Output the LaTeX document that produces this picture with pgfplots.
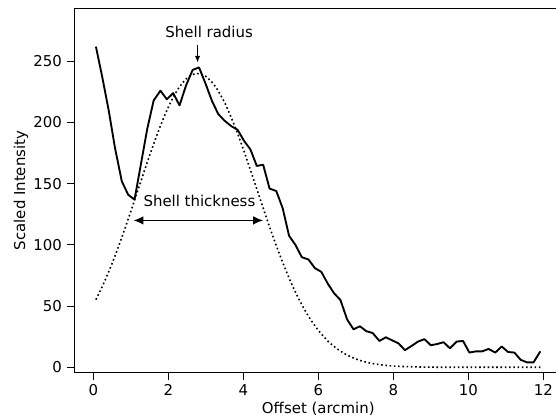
\documentclass[border=0pt]{standalone}
\usepackage{fontspec}
\setmainfont{DejaVu Sans}
\usepackage{pgfplots}
\usepackage{pgfplotstable}
\pgfplotsset{compat=1.18}
\usetikzlibrary{arrows.meta}

% measured radial profile
\pgfplotstableread{
x y
0.07 262
0.24 237
0.41 210
0.58 179
0.76 152
0.93 141
1.10 137
1.27 166
1.44 195
1.61 218
1.79 226
1.96 219
2.13 224
2.30 214
2.47 230
2.65 243
2.82 245
2.99 232
3.16 218
3.33 207
3.50 201.5
3.68 197
3.85 194
4.02 185
4.19 178
4.36 164.5
4.53 165.5
4.70 146
4.88 144
5.05 130
5.22 107.5
5.39 100
5.56 90
5.74 88
5.91 81
6.08 78
6.25 68.5
6.42 60.5
6.59 55
6.77 39
6.94 31
7.11 33.5
7.28 29.5
7.45 28
7.63 21.5
7.80 24.5
7.97 22
8.14 19.5
8.31 14
8.49 17.5
8.66 21
8.83 23
9.00 18
9.17 19
9.34 20.5
9.51 15.5
9.69 21
9.86 21.5
10.03 12
10.20 13
10.37 13
10.54 15
10.72 12
10.89 17
11.06 12.5
11.23 12
11.40 6
11.57 4
11.74 4
11.92 13
}\profile

% shell model (dotted)
\pgfplotstableread{
x y
0.07 55.3
0.25 66.7
0.50 84.8
0.75 105.3
1.00 127.3
1.25 150.2
1.50 172.9
1.75 194.1
2.00 212.5
2.25 226.9
2.50 236.3
2.75 240.0
3.00 237.7
3.25 229.6
3.50 216.4
3.75 198.8
4.00 178.2
4.25 155.8
4.50 132.8
4.75 110.4
5.00 89.6
5.25 70.8
5.50 54.6
5.75 41.1
6.00 30.2
6.25 21.6
6.50 15.1
6.75 10.3
7.00 6.8
7.25 4.4
7.50 2.8
7.75 1.7
8.00 1.0
8.50 0.4
9.00 0.1
9.50 0
10.00 0
10.50 0
11.00 0
11.50 0
11.92 0
}\model

\begin{document}
\fontsize{11.2}{13.4}\selectfont
\begin{tikzpicture}
\begin{axis}[
  scale only axis,
  width=365.6pt, height=272.6pt,
  xmin=-0.5, xmax=12.5,
  ymin=-4, ymax=293,
  xtick={0,2,...,12},
  ytick={0,50,...,250},
  xtick pos=left, ytick pos=left,
  tick align=outside,
  major tick length=5.6pt,
  tick style={black, line width=0.8pt},
  axis line style={line width=0.8pt},
  /pgf/number format/assume math mode=true,
  xlabel={Offset (arcmin)},
  ylabel={Scaled Intensity},
  xlabel style={at={(axis description cs:0.5,-0.115)}, anchor=base},
  ylabel style={at={(axis description cs:-0.1015,0.5)}, anchor=base},
  clip=false,
]
\addplot[black, line width=1.4pt, line join=round] table[x=x, y=y] {\profile};
\addplot[black, line width=1.2pt, dash pattern=on 1.2pt off 2pt, smooth] table[x=x, y=y] {\model};

% annotations
\node[anchor=base] at (axis cs:3.09,269.6) {Shell radius};
\draw[line width=0.8pt, -{Latex[length=5pt, width=4pt]}] (axis cs:2.78,263) -- (axis cs:2.78,249);
\node[anchor=base] at (axis cs:2.83,131.2) {Shell thickness};
\draw[line width=1.2pt, {Latex[length=7.5pt, width=6.5pt]}-{Latex[length=7.5pt, width=6.5pt]}]
  (axis cs:1.07,120) -- (axis cs:4.53,120);

\coordinate (bbsw) at (axis cs:-2.488,-39.8);
\coordinate (bbne) at (axis cs:12.339,300.1);
\end{axis}
\pgfresetboundingbox
\useasboundingbox (bbsw) rectangle (bbne);
\end{tikzpicture}
\end{document}
